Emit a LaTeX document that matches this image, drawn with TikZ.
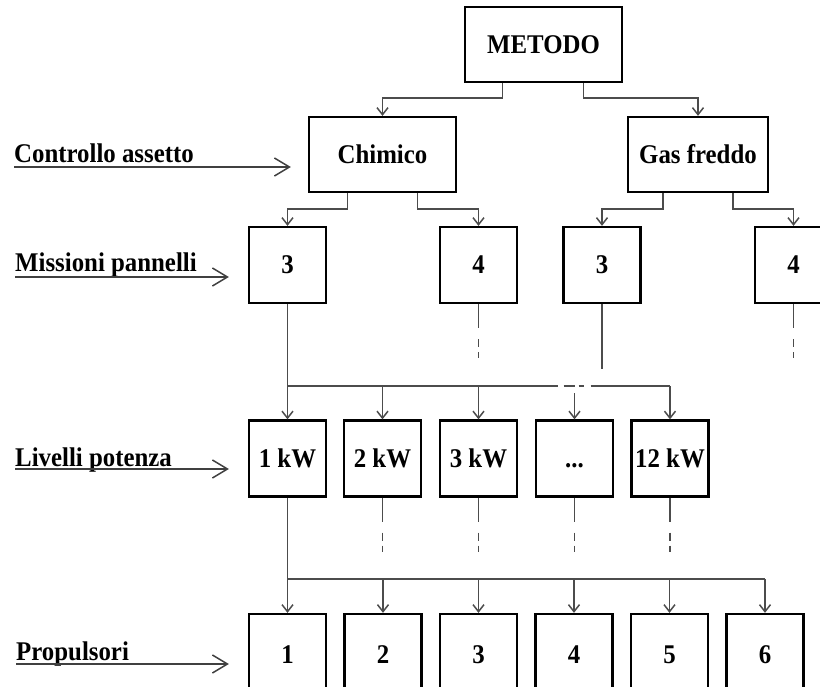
\documentclass[tikz,border=0pt]{standalone}
\usepackage{fontspec}
\setmainfont{Liberation Serif}[FakeStretch=0.92]
\usetikzlibrary{arrows.meta,calc}
\begin{document}
\begin{tikzpicture}[x=1pt,y=-1pt,
  box/.style={draw=black, line width=2.3pt, fill=white, inner sep=0pt,
    minimum width=77pt, minimum height=76pt, text height=18pt, text depth=0pt,
    font=\bfseries\fontsize{27}{30}\selectfont},
  lbl/.style={inner sep=0pt, font=\bfseries\fontsize{27}{30}\selectfont},
  conn/.style={draw=black!70, line width=1.5pt},
  tip/.style={-{Straight Barb[length=7pt,width=11pt]}},
  larr/.style={draw=black!75, line width=1.5pt, -{Straight Barb[length=15pt,width=18pt]}},
  trail/.style={conn, dash pattern=on 24pt off 11pt on 8pt off 5pt on 6pt off 60pt}]
\useasboundingbox (0,0) rectangle (820,687);
\clip (0,0) rectangle (820,687);

% level 0 and 1
\node[box, minimum width=157pt, minimum height=75pt] (metodo) at (543.5,44.5) {METODO};
\node[box, minimum width=147pt, minimum height=75pt] (chim) at (382.5,154.5) {Chimico};
\node[box, minimum width=140pt, minimum height=75pt] (gas) at (698,154.5) {Gas freddo};

% level 2
\node[box] (m1) at (287.5,265) {3};
\node[box] (m2) at (478.5,265) {4};
\node[box] (n1) at (602,265) {3};
\node[box] (n2) at (793.5,265) {4};

% level 3
\node[box] (p1) at (287.5,458.5) {1 kW};
\node[box] (p2) at (382.5,458.5) {2 kW};
\node[box] (p3) at (478.5,458.5) {3 kW};
\node[box] (p4) at (574.5,458.5) {...};
\node[box] (p5) at (670,458.5) {12 kW};

% level 4
\node[box, minimum height=80pt] (q1) at (287.5,654) {1};
\node[box, minimum height=80pt] (q2) at (383,654) {2};
\node[box, minimum height=80pt] (q3) at (478.5,654) {3};
\node[box, minimum height=80pt] (q4) at (574,654) {4};
\node[box, minimum height=80pt] (q5) at (669.5,654) {5};
\node[box, minimum height=80pt] (q6) at (765,654) {6};

% labels
\node[lbl, anchor=base west] (lc) at (14,163) {Controllo assetto};
\node[lbl, anchor=base west] (lm) at (15,272) {Missioni pannelli};
\node[lbl, anchor=base west] (ll) at (15,466) {Livelli potenza};
\node[lbl, anchor=base west] (lp) at (16,660) {Propulsori};

\draw[larr] ($(lc.base west)+(0,4)$) -- ($(chim.west |- lc.base)+(-17,4)$);
\draw[larr] ($(lm.base west)+(0,5)$) -- ($(m1.west |- lm.base)+(-19,5)$);
\draw[larr] ($(ll.base west)+(0,3)$) -- ($(p1.west |- ll.base)+(-19,3)$);
\draw[larr] ($(lp.base west)+(0,4)$) -- ($(q1.west |- lp.base)+(-19,4)$);

% top connectors
\draw[conn,tip] ($(metodo.south)+(-41,0)$) |- ($(chim.north)+(0,-18)$) -- (chim.north);
\draw[conn,tip] ($(metodo.south)+(40,0)$) |- ($(gas.north)+(0,-18)$) -- (gas.north);
\draw[conn,tip] ($(chim.south)+(-35,0)$) |- ($(m1.north)+(0,-17)$) -- (m1.north);
\draw[conn,tip] ($(chim.south)+(35,0)$) |- ($(m2.north)+(0,-17)$) -- (m2.north);
\draw[conn,tip] ($(gas.south)+(-35,0)$) |- ($(n1.north)+(0,-17)$) -- (n1.north);
\draw[conn,tip] ($(gas.south)+(35,0)$) |- ($(n2.north)+(0,-17)$) -- (n2.north);

% level 2 -> level 3
\coordinate (bus1) at (0,386);
\draw[conn,tip] (m1.south) -- (p1.north);
\draw[conn, dash pattern=on 270pt off 6pt on 11pt off 4pt on 5pt off 7pt on 200pt]
  (m1.south |- bus1) -- (p5.north |- bus1);
\foreach \n in {p2,p3,p5} \draw[conn,tip] (\n.north |- bus1) -- (\n.north);
\draw[conn,tip] ($(p4.north |- bus1)+(0,7)$) -- (p4.north);
\draw[trail] (m2.south) -- ++(0,54);
\draw[trail] (n2.south) -- ++(0,54);
\draw[conn] (n1.south) -- ++(0,65);

% level 3 -> level 4
\coordinate (bus2) at (0,579);
\draw[conn,tip] (p1.south) -- (q1.north);
\draw[conn] (p1.south |- bus2) -- (q6.north |- bus2);
\foreach \n in {q2,q3,q4,q5,q6} \draw[conn,tip] (\n.north |- bus2) -- (\n.north);
\foreach \n in {p2,p3,p4,p5} \draw[trail] (\n.south) -- ++(0,54);
\end{tikzpicture}
\end{document}
